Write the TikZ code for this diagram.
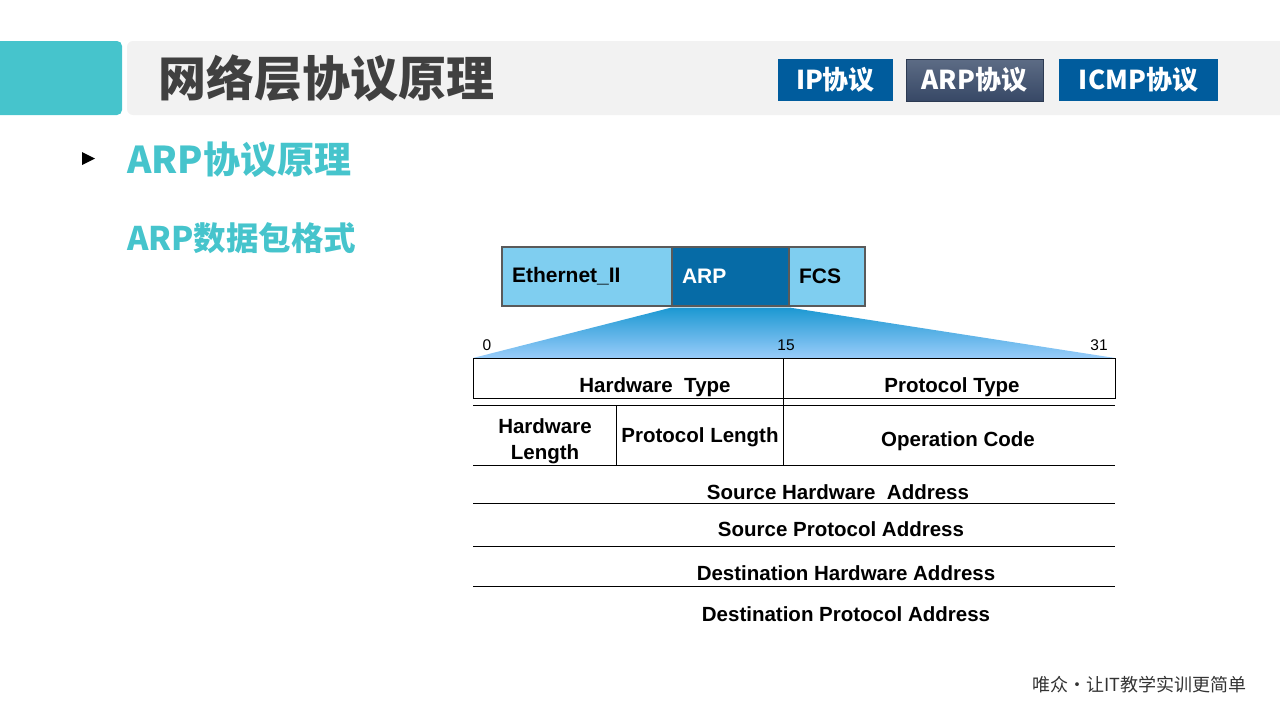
\documentclass[tikz,border=0pt]{standalone}
\usepackage{fontspec}
\setmainfont{Liberation Sans}
\newfontfamily\cjk{Noto Sans CJK SC}
\usetikzlibrary{positioning,calc}
\definecolor{wzteal}{HTML}{46C4CC}
\definecolor{barGray}{HTML}{F2F2F2}
\definecolor{titleGray}{HTML}{404040}
\definecolor{tabBlue}{HTML}{005C9D}
\definecolor{tabTop}{HTML}{5D6C85}
\definecolor{tabBot}{HTML}{374866}
\definecolor{frameLight}{HTML}{7FCEF0}
\definecolor{frameDark}{HTML}{066BA6}
\definecolor{frameEdge}{HTML}{5A5A5A}
\definecolor{fanTop}{HTML}{1C98D2}
\definecolor{fanBot}{HTML}{99CCFA}
\tikzset{
  tab/.style={fill=tabBlue, text=white, minimum height=42pt, inner sep=0pt, font=\cjk\bfseries\fontsize{26}{26}\selectfont},
  tabactive/.style={tab, draw=tabBot!80!black, top color=tabTop, bottom color=tabBot},
  heading/.style={anchor=west, text=wzteal, inner sep=0pt},
  field/.style={draw=frameEdge, line width=1.6pt, minimum height=59pt, inner xsep=10pt, inner ysep=0pt, align=left, font=\bfseries\fontsize{21}{21}\selectfont},
  cell/.style={inner sep=0pt, align=center, yshift=-1.5pt, font=\bfseries\fontsize{20.5}{26}\selectfont},
  bitnum/.style={inner sep=0pt, font=\fontsize{15.5}{15.5}\selectfont},
  cellline/.style={line width=0.9pt, black}
}
\begin{document}
\begin{tikzpicture}[x=1pt, y=-1pt]
  \useasboundingbox (0,0) rectangle (1280,720);
  % header bar
  \fill[wzteal, rounded corners=5pt] (-10,41) rectangle (122,115);
  \fill[barGray, rounded corners=6pt] (127,41) rectangle (1290,115);
  \node[anchor=west, inner sep=0pt, text=titleGray, font=\cjk\bfseries\fontsize{48}{48}\selectfont] (title) at (158,78) {网络层协议原理};
  \node[tab, minimum width=115pt] (iptab) at (835.5,80) {IP协议};
  \node[tabactive, minimum width=137pt] (arptab) at (974.5,80) {ARP协议};
  \node[tab, minimum width=159pt] (icmptab) at (1138.5,80) {ICMP协议};
  % headings
  \fill (82,152) -- (95,158.5) -- (82,165) -- cycle;
  \node[heading, font=\cjk\bfseries\fontsize{37}{37}\selectfont] (h1) at (127,160) {ARP协议原理};
  \node[heading, font=\cjk\bfseries\fontsize{32.5}{32.5}\selectfont] (h2) at (127,238) {ARP数据包格式};
  % frame
  \node[field, fill=frameLight, minimum width=170pt, text width=150pt] (eth) at (587,276.5) {\raisebox{-2pt}{Ethernet\_II}};
  \node[field, fill=frameDark, text=white, minimum width=117pt, text width=97pt] (arp) at (730.5,276.5) {\raisebox{-2pt}{ARP}};
  \node[field, fill=frameLight, minimum width=76pt, text width=56pt] (fcs) at (827,276.5) {\raisebox{-2pt}{FCS}};
  \coordinate (tl) at (473,358);
  \coordinate (tr) at (1115,358);
  \shade[top color=fanTop, bottom color=fanBot] ([yshift=-0.8pt]arp.south west) -- ([yshift=-0.8pt]arp.south east) -- (tr) -- (tl) -- cycle;
  \node[bitnum] (b0) at (487,345) {0};
  \node[bitnum] (b15) at (786,345) {15};
  \node[bitnum] (b31) at (1099,345) {31};
  % table
  \draw[cellline] (tl) rectangle (1115,398);
  \draw[cellline] (783,358) -- (783,465);
  \draw[cellline] (616,405) -- (616,465);
  \foreach \y in {405,465,503,546,586}
    \draw[cellline] (473,\y) -- (1115,\y);
  \node[cell] (htype) at (655,386) {Hardware\ \ Type};
  \node[cell] (ptype) at (952,386) {Protocol Type};
  \node[cell] (hlen) at (545,440) {Hardware\\Length};
  \node[cell] (plen) at (700,436) {Protocol Length};
  \node[cell] (opcode) at (958,440) {Operation Code};
  \node[cell] (sha) at (838,491) {Source Hardware\ \ Address};
  \node[cell] (spa) at (841,528) {Source Protocol Address};
  \node[cell] (dha) at (846,572) {Destination Hardware Address};
  \node[cell] (dpa) at (846,613) {Destination Protocol Address};
  % footer
  \node[anchor=west, inner sep=0pt, text=black!80, font=\cjk\fontsize{18}{18}\selectfont] (slogan) at (1032,685) {唯众•让IT教学实训更简单};
\end{tikzpicture}
\end{document}
